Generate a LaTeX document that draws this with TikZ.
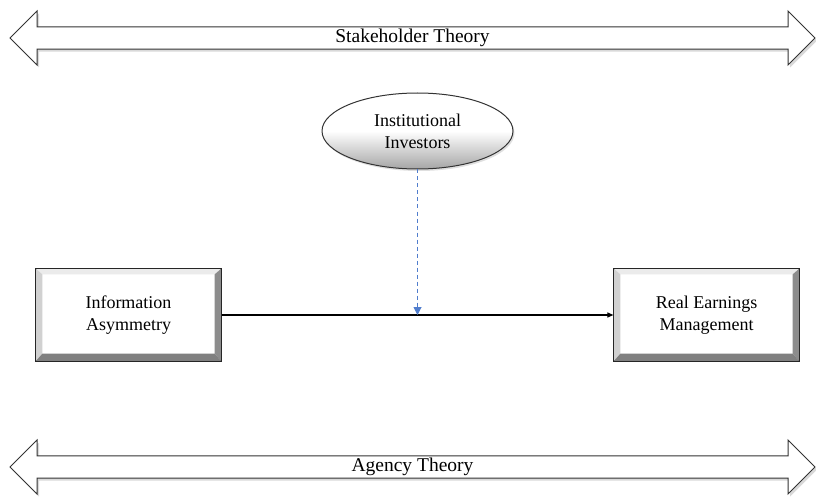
\documentclass[tikz,border=0pt]{standalone}
\usepackage{fontspec}
\setmainfont{Liberation Serif}
\usetikzlibrary{shapes.geometric,shapes.arrows,shadows,arrows.meta}

\tikzset{
  theory/.style={double arrow, draw=black!80, line width=1pt, fill=white,
    double arrow tip angle=90, double arrow head extend=13.5pt,
    minimum width=54pt, minimum height=805pt, inner sep=0pt,
    drop shadow={shadow xshift=2pt,shadow yshift=-2.5pt,opacity=0.3},
    font=\fontsize{19.5}{20}\selectfont},
  bevelbox/.style={draw=black!85, line width=1.2pt, fill=white,
    minimum width=185pt, minimum height=92pt, inner sep=0pt, align=center},
  boxtext/.style={font=\fontsize{18}{22}\selectfont, align=center},
  moderator/.style={ellipse, draw=black!80, line width=1pt,
    minimum width=191pt, minimum height=76pt, inner sep=0pt, align=center,
    top color=white, bottom color=black!35, middle color=white,
    drop shadow={shadow xshift=1.5pt,shadow yshift=-2pt,opacity=0.25},
    font=\fontsize{18}{22}\selectfont},
  effect/.style={-{Triangle[length=6pt,width=5pt]}, line width=1.1pt, black},
  moderation/.style={-{Triangle[length=8pt,width=8pt]}, dash pattern=on 4pt off 3pt,
    line width=1pt, color={rgb,255:red,80;green,125;blue,205}}
}

\begin{document}
\begin{tikzpicture}[x=1pt,y=-1pt]
\useasboundingbox (0,0) rectangle (816,497);

% theories
\node[theory] (stake) at (412.5,38) {Stakeholder Theory};
\node[theory] (agency) at (412.5,467) {Agency Theory};

% variables
\node[bevelbox] (asym) at (128.5,315) {};
\node[bevelbox] (rem) at (706.5,315) {};

\foreach \b in {asym,rem}{
  \fill[black!8] (\b.north west) -- (\b.north east) -- ([shift={(-7,6)}]\b.north east) -- ([shift={(7,6)}]\b.north west) -- cycle;
  \fill[black!18] (\b.north west) -- ([shift={(7,6)}]\b.north west) -- ([shift={(7,-8)}]\b.south west) -- (\b.south west) -- cycle;
  \fill[black!45] (\b.north east) -- ([shift={(-7,6)}]\b.north east) -- ([shift={(-7,-8)}]\b.south east) -- (\b.south east) -- cycle;
  \fill[black!50] (\b.south west) -- ([shift={(7,-8)}]\b.south west) -- ([shift={(-7,-8)}]\b.south east) -- (\b.south east) -- cycle;
  \draw[black!85, line width=1.2pt] (\b.north west) rectangle (\b.south east);
}

\node[boxtext] (asymtext) at (asym) {Information\\Asymmetry};
\node[boxtext] (remtext) at (rem) {Real Earnings\\Management};

% moderator
\node[moderator] (inst) at (417.5,131) {Institutional\\Investors};

\coordinate (mod) at (inst.south |- asym.east);
\draw[effect] (asym.east) -- (rem.west);
\draw[moderation] (inst.south) -- (mod);

\end{tikzpicture}
\end{document}
